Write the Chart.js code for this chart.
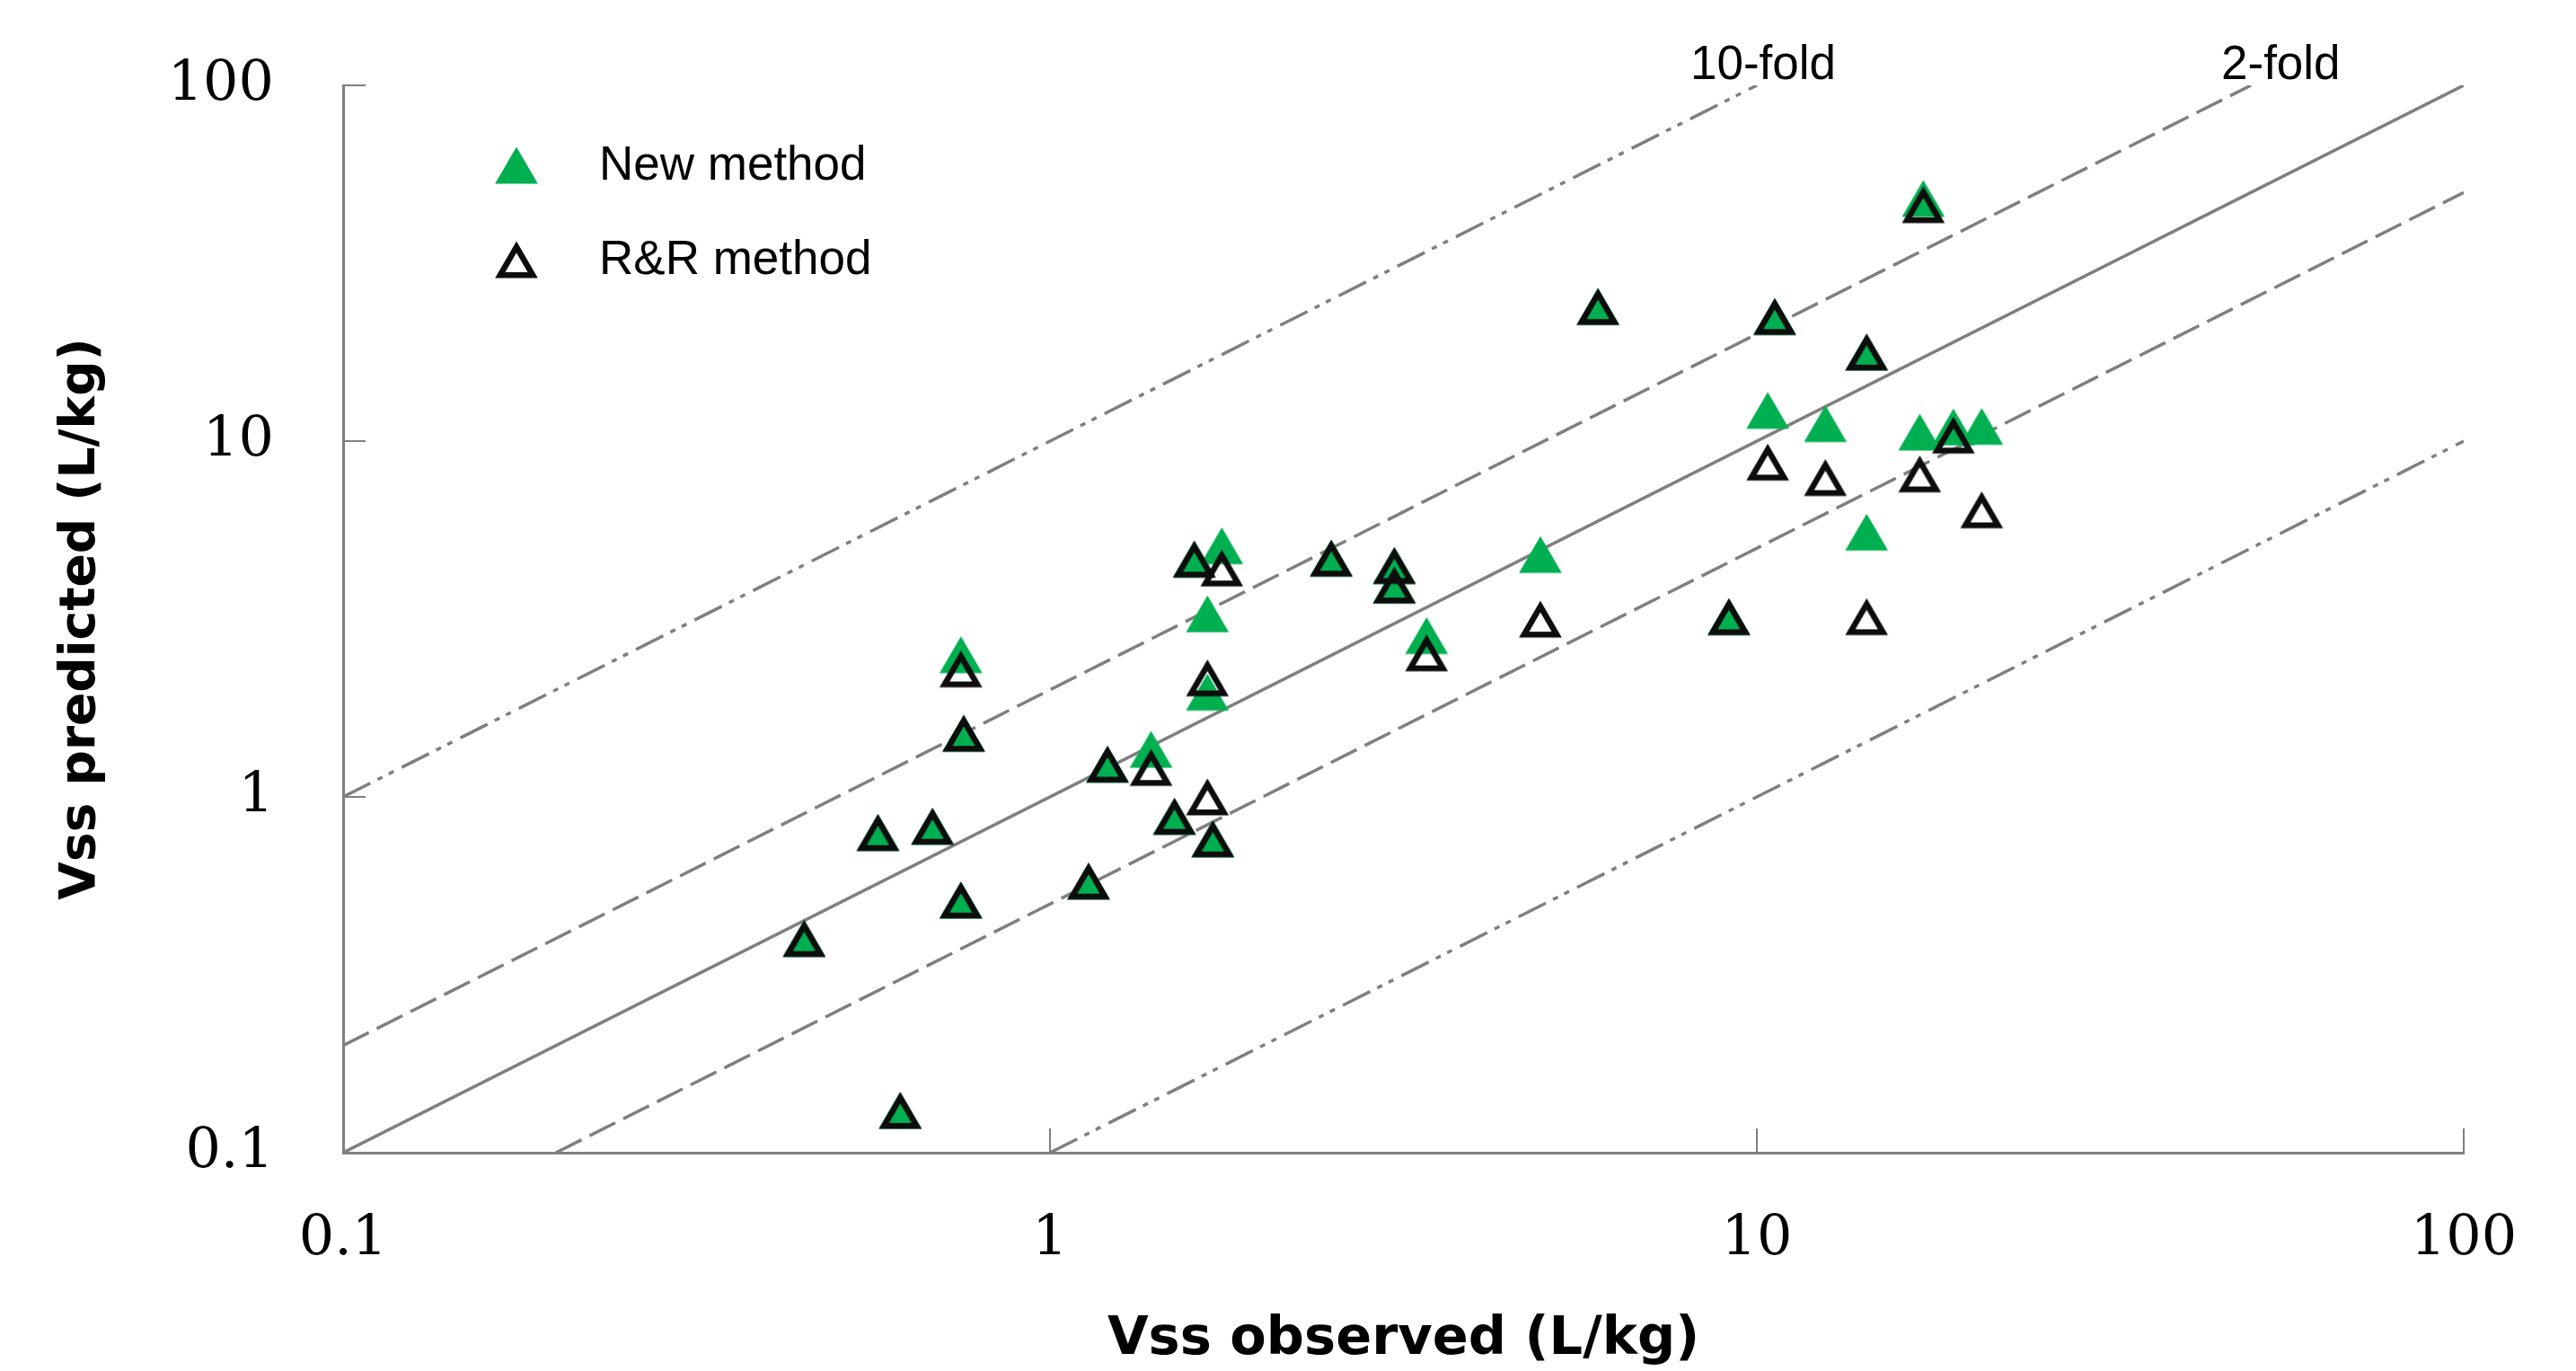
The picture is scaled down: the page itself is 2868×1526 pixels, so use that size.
<!DOCTYPE html>
<html>
<head>
<meta charset="utf-8">
<title>Vss predicted vs observed</title>
<script src="https://cdn.jsdelivr.net/npm/chart.js@4.4.1/dist/chart.umd.min.js"></script>
<style>
  html, body { margin: 0; padding: 0; background: #fff; }
  canvas { display: block; }
</style>
</head>
<body>
<canvas id="chart" width="2868" height="1526"></canvas>
<script>
// Observed Vss (L/kg), one entry per compound
const vssObserved = [0.449, 0.571, 0.614, 0.682, 0.748, 0.755, 0.748, 1.134, 1.206, 1.39,
    1.50, 1.60, 1.67, 1.67, 1.70, 1.75, 2.50, 3.07, 3.07, 3.41,
    4.94, 5.96, 9.13, 10.36, 10.6, 12.5, 14.3, 14.3, 17.0, 17.2,
    18.97, 20.8];

// Predicted Vss (L/kg) with the new method
const vssNewMethod = [0.40, 0.794, 0.1315, 0.827, 0.513, 1.51, 2.51, 0.58, 1.236, 1.36,
    0.882, 4.66, 3.27, 1.97, 0.762, 5.08, 4.69, 4.47, 3.94, 2.84,
    4.80, 23.9, 3.21, 12.2, 22.4, 11.2, 17.8, 5.55, 10.6, 48.1,
    10.96, 11.0];

// Predicted Vss (L/kg) with the R&R method
const vssRRMethod = [0.40, 0.794, 0.1315, 0.827, 0.513, 1.51, 2.29, 0.58, 1.236, 1.21,
    0.882, 4.66, 1.00, 2.16, 0.762, 4.40, 4.69, 4.47, 3.94, 2.54,
    3.16, 23.9, 3.21, 8.73, 22.4, 7.9, 17.8, 3.21, 8.09, 46.2,
    10.4, 6.41];

const axisTicks = [0.1, 1, 10, 100];

// Reference lines (end points as [observed, predicted])
const unityLine = [[0.1, 0.1], [100, 100]];
const twoFoldUpper = [[0.1, 0.2], [50, 100]];
const twoFoldLower = [[0.2, 0.1], [100, 50]];
const tenFoldUpper = [[0.1, 1], [10, 100]];
const tenFoldLower = [[1, 0.1], [100, 10]];

const GRAY = '#7f7f7f';
const GREEN = '#00b050';

/**
 * Builds an Excel-like triangle marker as a canvas
 */
function triangleMarker(fill, stroke) {
    const c = document.createElement('canvas');
    c.width = 56;
    c.height = 52;
    const g = c.getContext('2d');
    const cx = 28, cy = 26, halfW = 18.2;
    g.beginPath();
    g.moveTo(cx, cy - 14.1);
    g.lineTo(cx + halfW, cy + 17.3);
    g.lineTo(cx - halfW, cy + 17.3);
    g.closePath();
    if (fill) {
        g.fillStyle = fill;
        g.fill();
    }
    g.lineJoin = 'miter';
    g.lineWidth = 6.5;
    g.strokeStyle = stroke;
    g.stroke();
    return c;
}

const newMarker = triangleMarker(GREEN, GREEN);
const rrMarker = triangleMarker(null, '#0d0d0d');

const toPoints = (xs, ys) => xs.map((x, i) => ({ x: x, y: ys[i] }));
const toLine = pairs => pairs.map(p => ({ x: p[0], y: p[1] }));

function refLine(pairs, dash) {
    return {
        data: toLine(pairs),
        showLine: true,
        borderColor: GRAY,
        borderWidth: 3.5,
        borderDash: dash,
        pointRadius: 0,
        fill: false,
        order: 2
    };
}

// Inside tick marks, the legend and the fold labels
const decorations = {
    id: 'decorations',
    beforeDatasetsDraw(chart) {
        const { ctx, chartArea, scales } = chart;
        ctx.save();
        ctx.strokeStyle = GRAY;
        ctx.lineWidth = 2;
        axisTicks.forEach(v => {
            const py = Math.round(scales.y.getPixelForValue(v));
            ctx.beginPath();
            ctx.moveTo(chartArea.left, py);
            ctx.lineTo(chartArea.left + 25, py);
            ctx.stroke();

            const px = Math.round(scales.x.getPixelForValue(v));
            ctx.beginPath();
            ctx.moveTo(px, chartArea.bottom);
            ctx.lineTo(px, chartArea.bottom - 27);
            ctx.stroke();
        });
        ctx.restore();
    },
    afterDraw(chart) {
        const { ctx, chartArea } = chart;
        ctx.save();

        // legend
        const items = chart.data.datasets.filter(d => d.label);
        const legendOrder = ['New method', 'R&R method'];
        ctx.font = '53px "Liberation Sans", Arial, sans-serif';
        ctx.fillStyle = '#000';
        ctx.textBaseline = 'middle';
        ctx.textAlign = 'left';
        legendOrder.forEach((name, i) => {
            const ds = items.find(d => d.label === name);
            const y = chartArea.top + 89 + i * 105;
            const img = ds.pointStyle;
            ctx.drawImage(img, chartArea.left + 193 - img.width / 2, y - img.height / 2);
            ctx.fillText(name, chartArea.left + 285, y + 1);
        });

        // fold labels
        ctx.textBaseline = 'alphabetic';
        ctx.fillText('10-fold', chartArea.left + 1500, chartArea.top - 7);
        ctx.fillText('2-fold', chartArea.left + 2091, chartArea.top - 7);
        ctx.restore();
    }
};

const tickFont = { family: '"DejaVu Serif", serif', size: 62, lineHeight: 1 };
const titleFont = { family: '"DejaVu Sans", Verdana, sans-serif', weight: 'bold', lineHeight: 1 };

new Chart(document.getElementById('chart'), {
    type: 'scatter',
    data: {
        datasets: [
            {
                label: 'R&R method',
                data: toPoints(vssObserved, vssRRMethod),
                pointStyle: rrMarker,
                pointRadius: 20,
                order: 0
            },
            {
                label: 'New method',
                data: toPoints(vssObserved, vssNewMethod),
                pointStyle: newMarker,
                pointRadius: 20,
                order: 1
            },
            refLine(unityLine, []),
            refLine(twoFoldUpper, [32, 10]),
            refLine(twoFoldLower, [32, 10]),
            refLine(tenFoldUpper, [34, 9, 6, 8, 6, 10]),
            refLine(tenFoldLower, [34, 9, 6, 8, 6, 10])
        ]
    },
    options: {
        responsive: false,
        animation: false,
        events: [],
        layout: { padding: { top: 95, right: 125, bottom: 0, left: 0 } },
        plugins: {
            legend: { display: false },
            tooltip: { enabled: false }
        },
        scales: {
            x: {
                type: 'logarithmic',
                min: 0.1,
                max: 100,
                afterBuildTicks: s => { s.ticks = axisTicks.map(v => ({ value: v })); },
                afterFit: s => {
                    s.height = 243;
                    s.paddingLeft = 0;
                    s.paddingRight = 0;
                },
                grid: { display: false, drawTicks: false },
                border: { display: true, color: GRAY, width: 3 },
                ticks: {
                    autoSkip: false,
                    maxRotation: 0,
                    padding: 66,
                    color: '#000',
                    font: tickFont,
                    callback: v => String(v)
                },
                title: {
                    display: true,
                    text: 'Vss observed (L/kg)',
                    color: '#000',
                    font: Object.assign({ size: 59 }, titleFont),
                    padding: { top: 0, bottom: 5 }
                }
            },
            y: {
                type: 'logarithmic',
                min: 0.1,
                max: 100,
                afterBuildTicks: s => { s.ticks = axisTicks.map(v => ({ value: v })); },
                afterFit: s => {
                    s.width = 382;
                    s.paddingTop = 0;
                    s.paddingBottom = 0;
                },
                grid: { display: false, drawTicks: false },
                border: { display: true, color: GRAY, width: 3 },
                ticks: {
                    autoSkip: false,
                    padding: 77,
                    color: '#000',
                    font: tickFont,
                    callback: v => String(v)
                },
                title: {
                    display: true,
                    text: 'Vss predicted (L/kg)',
                    color: '#000',
                    font: Object.assign({ size: 55 }, titleFont),
                    padding: { top: 63.5, bottom: 0 }
                }
            }
        }
    },
    plugins: [decorations]
});
</script>
</body>
</html>
